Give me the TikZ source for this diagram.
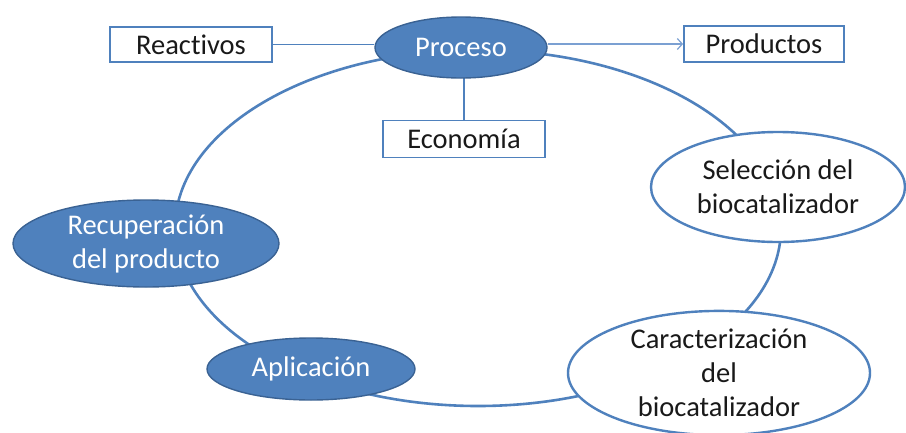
\documentclass[tikz,border=0pt]{standalone}
\usepackage{fontspec}
\setmainfont{Carlito}[Ligatures=NoCommon]
\usetikzlibrary{shapes.geometric,arrows.meta,backgrounds}
\definecolor{accent}{HTML}{4F81BD}
\definecolor{accentdark}{HTML}{3A6293}
\definecolor{arrowblue}{HTML}{7BA0D2}
\begin{document}
\begin{tikzpicture}[x=1pt,y=-1pt,
  every node/.style={font=\fontsize{28.5}{34}\selectfont, align=center, inner sep=0pt},
  box/.style={draw=accent, line width=1.8pt, fill=white, text=black!90, minimum height=35pt},
  bluell/.style={ellipse, draw=accentdark, line width=1.4pt, fill=accent, text=white},
  whiteell/.style={ellipse, draw=accent, line width=2.4pt, fill=white, text=black!90},
  ring/.style={draw=accent, line width=2.6pt},
  link/.style={draw=accent, line width=1.4pt},
  outarrow/.style={draw=arrowblue, line width=1.2pt, -{Straight Barb[length=5pt,width=11pt]}}
]
\useasboundingbox (0,0) rectangle (906,432);
\node[box, minimum width=162pt] (reac) at (191,44.5) {Reactivos};
\node[bluell, minimum width=172pt, minimum height=61pt] (proc) at (461,47.5) {Proceso};
\node[box, minimum width=162pt, minimum height=37pt] (econ) at (464,139) {Economía};
\node[box, minimum width=160pt, minimum height=36pt] (prod) at (764,44) {Productos};
\node[whiteell, minimum width=254pt, minimum height=110pt] (sel) at (778,187) {Selección del\\biocatalizador};
\node[whiteell, minimum width=302pt, minimum height=118pt] (car) at (719,373) {Caracterización\\del\\biocatalizador};
\node[bluell, minimum width=266pt, minimum height=87pt] (rec) at (146,243.5) {Recuperación\\del producto};
\node[bluell, minimum width=208pt, minimum height=62pt] (apl) at (311,369) {Aplicación};
\coordinate (ringc) at (478,228);
\begin{pgfonlayer}{background}
  \fill[white] (0,0) rectangle (906,432);
  \draw[ring] (ringc) ellipse [x radius=303pt, y radius=178pt];
  \draw[link] (reac.east) -- (reac.east -| proc.west);
  \draw[link] (econ.north |- proc.center) -- (econ.north);
  \draw[outarrow] (proc.east |- prod.west) -- (prod.west);
\end{pgfonlayer}
\end{tikzpicture}
\end{document}
